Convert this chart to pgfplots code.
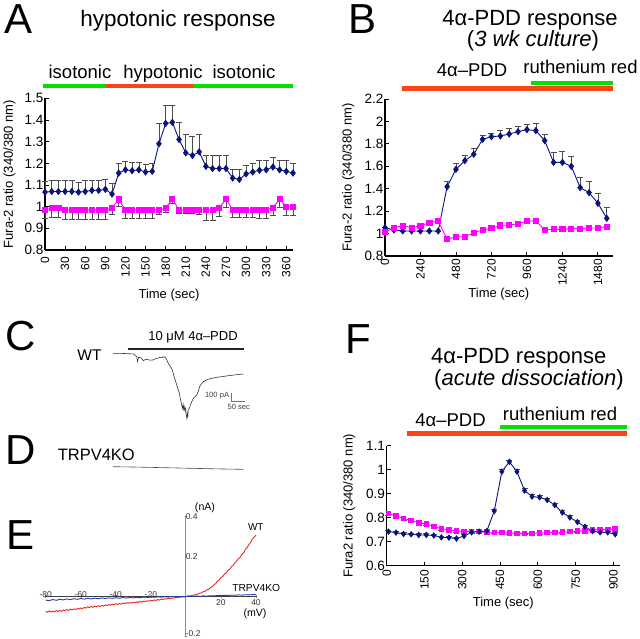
\documentclass[border=0pt]{standalone}
\usepackage{fontspec}
\setmainfont{Liberation Sans}
\usepackage{pgfplots}
\pgfplotsset{compat=1.18}

\definecolor{navy}{RGB}{10,20,125}
\definecolor{mag}{RGB}{255,0,255}
\definecolor{bargreen}{RGB}{0,225,0}
\definecolor{barred}{RGB}{250,70,20}
\definecolor{ivred}{RGB}{228,45,40}
\definecolor{ivblue}{RGB}{40,60,170}
\newcommand\fs[1]{\fontsize{#1}{#1}\selectfont}

\pgfplotsset{
  panel/.style={
    scale only axis, clip=false,
    axis lines=left, axis line style={-, line width=1.1pt},
    tick align=inside, major tick length=4pt,
    tick style={black, line width=0.9pt},
    /pgf/number format/assume math mode=true,
    xticklabel style={rotate=90, anchor=east, inner sep=0pt, font=\fs{12}},
    yticklabel style={inner sep=1.5pt, font=\fs{13.5}},
    label style={font=\fs{13}},
    xlabel style={anchor=base}, ylabel style={anchor=base},
  },
  errs/.style={
    error bars/y explicit,
    error bars/error bar style={black!70, line width=0.6pt},
    error bars/error mark options={rotate=90, black!70, line width=0.6pt, mark size=3pt}},
  bluese/.style={navy, line width=0.9pt, mark=diamond*, mark size=3pt,
    mark options={navy}, errs, error bars/y dir=plus},
  magse/.style={mag, line width=0.9pt, mark=square*, mark size=2.6pt,
    mark options={mag}, errs, error bars/y dir=minus},
}

\begin{document}
\begin{tikzpicture}[x=1pt,y=1pt]
\useasboundingbox (0,0) rectangle (640,-639);

% ---------------- A ----------------
\node[anchor=base west, inner sep=0pt, font=\fs{42}] at (4,-33.3) {A};
\node[anchor=base, inner sep=0pt, font=\fs{22.5}] at (178,-26.7) {hypotonic response};
\draw[line width=4.3pt, bargreen] (43,-86) -- (106,-86);
\draw[line width=4.3pt, barred] (106,-86) -- (193,-86);
\draw[line width=4.3pt, bargreen] (193,-86) -- (293,-86);
\node[anchor=base, inner sep=0pt, font=\fs{18.5}] at (80,-78.3) {isotonic};
\node[anchor=base, inner sep=0pt, font=\fs{18.5}] at (163,-78.3) {hypotonic};
\node[anchor=base, inner sep=0pt, font=\fs{18.5}] at (244,-78.3) {isotonic};

\begin{axis}[panel, at={(45pt,-250pt)}, width=248pt, height=151.7pt,
  xmin=0, xmax=370, ymin=0.8, ymax=1.5,
  xtick={0,30,...,360}, ytick={0.8,0.9,...,1.51},
  xticklabel shift=7pt,
  xlabel={Time (sec)}, ylabel={Fura-2 ratio (340/380 nm)},
  xlabel style={at={(rel axis cs:0.5,-0.323)}},
  ylabel style={at={(rel axis cs:-0.130,0.5)}},
]
\addplot+[bluese] table[x=t, y=v, y error=e] {
t v e
0 1.067 0.05
10 1.070 0.05
20 1.070 0.05
30 1.070 0.05
40 1.070 0.05
50 1.067 0.045
60 1.070 0.05
70 1.075 0.045
80 1.075 0.045
90 1.080 0.045
100 1.058 0.05
110 1.155 0.045
120 1.170 0.04
130 1.166 0.04
140 1.170 0.035
150 1.160 0.035
160 1.163 0.035
170 1.290 0.095
180 1.384 0.085
190 1.389 0.08
200 1.310 0.08
210 1.248 0.085
220 1.236 0.09
230 1.253 0.08
240 1.186 0.05
250 1.176 0.06
260 1.176 0.06
270 1.176 0.06
280 1.132 0.04
290 1.126 0.045
300 1.151 0.04
310 1.160 0.04
320 1.168 0.045
330 1.170 0.045
340 1.183 0.045
350 1.170 0.045
360 1.163 0.05
370 1.155 0.045
};
\addplot+[magse] table[x=t, y=v, y error=e] {
t v e
0 0.985 0.04
10 0.993 0.04
20 0.993 0.04
30 0.985 0.045
40 0.985 0.045
50 0.985 0.045
60 0.985 0.045
70 0.985 0.045
80 0.985 0.045
90 0.985 0.045
100 0.993 0.03
110 1.033 0.03
120 0.985 0.04
130 0.985 0.04
140 0.985 0.04
150 0.985 0.04
160 0.985 0.04
170 0.985 0.02
180 0.993 0.02
190 1.035 0.02
200 0.985 0.015
210 0.985 0.015
220 0.985 0.015
230 0.985 0.02
240 0.985 0.05
250 0.985 0.05
260 0.995 0.04
270 1.035 0.04
280 0.985 0.035
290 0.985 0.035
300 0.985 0.035
310 0.985 0.035
320 0.985 0.04
330 0.985 0.04
340 0.995 0.035
350 1.035 0.04
360 1.000 0.04
370 1.000 0.04
};
\end{axis}

% ---------------- B ----------------
\node[anchor=base west, inner sep=0pt, font=\fs{42}] at (348,-33.3) {B};
\node[anchor=base, inner sep=0pt, font=\fs{22}] at (530,-26) {4α-PDD response};
\node[anchor=base, inner sep=0pt, font=\fs{22}] at (533,-46.7) {(\textit{3 wk culture})};
\draw[line width=5pt, barred] (401.7,-89) -- (613.3,-89);
\draw[line width=4pt, bargreen] (531,-83) -- (613.3,-83);
\node[anchor=base, inner sep=0pt, font=\fs{18.5}] at (472,-76.7) {4α–PDD};
\node[anchor=base, inner sep=0pt, font=\fs{18.5}] at (580.5,-74) {ruthenium red};

\begin{axis}[panel, at={(385pt,-256pt)}, width=227.7pt, height=157pt,
  xmin=0, xmax=1540, ymin=0.8, ymax=2.2,
  xtick={0,240,...,1440}, xticklabels={0,240,480,720,960,1240,1480},
  ytick={0.8,1,...,2.21},
  xticklabel shift=3pt,
  xlabel={Time (sec)}, ylabel={Fura-2 ratio (340/380 nm)},
  xlabel style={at={(rel axis cs:0.5,-0.2656)}},
  ylabel style={at={(rel axis cs:-0.1462,0.5)}},
]
\addplot+[bluese] table[x=t, y=v, y error=e] {
t v e
0 1.053 0
60 1.032 0
120 1.023 0
180 1.023 0
240 1.023 0
300 1.023 0
360 1.023 0
420 1.418 0.05
480 1.573 0.05
540 1.650 0.05
600 1.707 0.05
660 1.840 0.035
720 1.864 0.03
780 1.870 0.05
840 1.888 0.05
900 1.909 0.05
960 1.927 0.05
1020 1.918 0.065
1080 1.829 0.055
1140 1.635 0.09
1200 1.635 0.10
1260 1.600 0.09
1320 1.410 0.09
1380 1.365 0.10
1440 1.270 0.09
1500 1.136 0.10
};
\addplot+[magse] table[x=t, y=v, y error=e] {
t v e
0 1.011 0.02
60 1.053 0.015
120 1.070 0.015
180 1.053 0.015
240 1.070 0.015
300 1.097 0.015
360 1.112 0.015
420 0.949 0.02
480 0.972 0.025
540 0.972 0.02
600 1.008 0.015
660 1.032 0.015
720 1.047 0.015
780 1.073 0.015
840 1.076 0.015
900 1.088 0.015
960 1.109 0.015
1020 1.115 0.015
1080 1.032 0.015
1140 1.038 0.015
1200 1.038 0.015
1260 1.044 0.015
1320 1.044 0.015
1380 1.050 0.015
1440 1.050 0.015
1500 1.062 0.015
};
\end{axis}

% ---------------- C ----------------
\node[anchor=base west, inner sep=0pt, font=\fs{42}] at (5,-350) {C};
\node[anchor=base, inner sep=0pt, font=\fs{15.5}] at (89.5,-360.7) {WT};
\node[anchor=base, inner sep=0pt, font=\fs{13}] at (193,-340.7) {10 μM 4α–PDD};
\draw[line width=1.3pt, black!85] (127.7,-349) -- (244.3,-349);
\node[anchor=base east, inner sep=0pt, font=\fs{7.6}, black!75] at (229.3,-397.3) {100 pA};
\node[anchor=base, inner sep=0pt, font=\fs{7.6}, black!75] at (238.8,-409.3) {50 sec};

\begin{axis}[at={(113pt,-433.3pt)}, scale only axis, width=130.7pt, height=88pt,
  xmin=0, xmax=490, ymin=-1000, ymax=100, hide axis, clip=false]
\addplot[black!80, line width=0.6pt] coordinates {
(0,0) (40,-2) (76,-8) (89,-42) (92,-104) (96,-50) (104,-55) (114,-92)
(120,-80) (126,-75) (138,-86) (151,-83) (158,-70) (164,-63) (170,-58)
(176,-50) (183,-55) (189,-42) (195,-52) (199,-63) (207,-125) (214,-160)
(220,-188) (225,-240) (229,-292) (234,-340) (239,-396) (244,-450)
(249,-500) (252,-560) (255,-604) (258,-650) (261,-688) (263,-640)
(265,-700) (267,-667) (270,-720) (272,-690) (274,-750) (276,-790)
(277,-813) (279,-760) (280,-800) (282,-708) (286,-690) (289,-658)
(292,-630) (295,-604) (298,-590) (301,-563) (307,-545) (314,-521)
(320,-470) (326,-408) (332,-380) (339,-354) (348,-338) (357,-325)
(372,-312) (389,-300) (408,-292) (426,-283) (445,-275) (464,-267)
(478,-262) (489,-258)
};
\draw[black!55, line width=0.6pt] (axis cs:445,-496) -- (axis cs:445,-596) -- (axis cs:495,-596);
\end{axis}

% ---------------- D ----------------
\node[anchor=base west, inner sep=0pt, font=\fs{42}] at (5,-464) {D};
\node[anchor=base, inner sep=0pt, font=\fs{16.5}] at (96.3,-460.7) {TRPV4KO};
\begin{axis}[at={(113pt,-482.7pt)}, scale only axis, width=130.7pt, height=24pt,
  xmin=0, xmax=490, ymin=-200, ymax=100, hide axis, clip=false]
\addplot[black!70, line width=0.6pt] coordinates {
(0,0) (80,-4) (160,-10) (240,-16) (320,-22) (400,-28) (490,-33)
};
\end{axis}

% ---------------- E ----------------
\node[anchor=base west, inner sep=0pt, font=\fs{42}] at (6.7,-549.3) {E};
\node[anchor=base, inner sep=0pt, font=\fs{10.6}] at (205,-510.7) {(nA)};
\node[anchor=base, inner sep=0pt, font=\fs{10}] at (255.8,-530.7) {WT};
\node[anchor=base, inner sep=0pt, font=\fs{10.2}] at (256.2,-591) {TRPV4KO};
\node[anchor=base, inner sep=0pt, font=\fs{10.6}] at (255,-616.7) {(mV)};

\begin{axis}[at={(45.7pt,-636.7pt)}, scale only axis, width=210.3pt, height=120pt,
  xmin=-80, xmax=40, ymin=-0.2, ymax=0.4, clip=false,
  axis lines=middle, axis line style={-},
  x axis line style={black!75, line width=0.8pt},
  y axis line style={black!45, line width=0.8pt},
  tick style={black!55, line width=0.5pt}, major tick length=2.5pt,
  /pgf/number format/assume math mode=true,
  xtick={-80,-60,-40,-20},
  xticklabel style={anchor=south, inner sep=0.5pt, font=\fs{8.5}, black!80},
  extra x ticks={20,40},
  extra x tick style={xticklabel style={anchor=north, inner sep=1.5pt}},
  ytick={0.2,0.4},
  yticklabel style={anchor=west, inner sep=1pt, font=\fs{8.5}, black!80},
  extra y ticks={-0.2},
  extra y tick style={yticklabel style={anchor=west, inner sep=1pt, yshift=3pt}},
]
\addplot[ivred, line width=0.9pt] coordinates {
(-80,-0.072) (-79,-0.078) (-78,-0.071) (-77,-0.077) (-76,-0.072) (-75,-0.076)
(-74,-0.069) (-73,-0.074) (-72,-0.068) (-71,-0.073) (-70,-0.066) (-69,-0.070)
(-68,-0.064) (-67,-0.069) (-66,-0.062) (-65,-0.066) (-64,-0.061) (-63,-0.065)
(-62,-0.058) (-61,-0.062) (-60,-0.056) (-59,-0.060) (-58,-0.053) (-57,-0.057)
(-56,-0.050) (-55,-0.055) (-54,-0.049) (-53,-0.053) (-52,-0.047) (-51,-0.051)
(-50,-0.045) (-49,-0.049) (-48,-0.044) (-47,-0.047) (-46,-0.041) (-45,-0.045)
(-44,-0.040) (-43,-0.043) (-42,-0.037) (-41,-0.041) (-40,-0.035) (-39,-0.039)
(-38,-0.034) (-37,-0.037) (-36,-0.032) (-35,-0.035) (-34,-0.030) (-33,-0.033)
(-32,-0.029) (-31,-0.032) (-30,-0.027) (-29,-0.030) (-28,-0.026) (-27,-0.029)
(-26,-0.023) (-25,-0.027) (-24,-0.022) (-23,-0.025) (-22,-0.020) (-21,-0.023)
(-20,-0.018) (-19,-0.021) (-18,-0.016) (-17,-0.019) (-16,-0.014) (-15,-0.017)
(-14,-0.012) (-13,-0.014) (-12,-0.010) (-11,-0.012) (-10,-0.008) (-9,-0.010)
(-8,-0.006) (-7,-0.008) (-6,-0.004) (-5,-0.005) (-4,-0.002) (-3,-0.003)
(-2,0.000) (-1,-0.001) (0,0.002) (1,0.003) (2,0.005) (3,0.005) (4,0.008)
(5,0.008) (6,0.012) (7,0.013) (8,0.018) (9,0.020) (10,0.026) (11,0.027)
(12,0.035) (13,0.037) (14,0.046) (15,0.050) (16,0.060) (17,0.066)
(18,0.078) (19,0.083) (20,0.097) (21,0.101) (22,0.114) (23,0.118)
(24,0.132) (25,0.136) (26,0.151) (27,0.157) (28,0.170) (29,0.178)
(30,0.190) (31,0.197) (32,0.212) (33,0.220) (34,0.238) (35,0.246)
(36,0.262) (37,0.272) (38,0.290) (39,0.298) (40,0.308)
};
\addplot[ivblue, line width=0.9pt] coordinates {
(-80,-0.017) (-78,-0.020) (-76,-0.014) (-74,-0.018) (-72,-0.013) (-70,-0.016)
(-68,-0.011) (-66,-0.015) (-64,-0.010) (-62,-0.013) (-60,-0.009) (-58,-0.012)
(-56,-0.008) (-54,-0.011) (-52,-0.007) (-50,-0.010) (-48,-0.006) (-46,-0.009)
(-44,-0.006) (-42,-0.008) (-40,-0.005) (-38,-0.008) (-36,-0.004) (-34,-0.007)
(-32,-0.004) (-30,-0.006) (-28,-0.003) (-26,-0.005) (-24,-0.002) (-22,-0.004)
(-20,-0.002) (-18,-0.003) (-16,-0.001) (-14,-0.002) (-12,0.000) (-10,-0.002)
(-8,0.001) (-6,-0.001) (-4,0.001) (-2,0.000) (0,0.001) (2,0.002) (4,0.001)
(6,0.003) (8,0.002) (10,0.004) (12,0.003) (14,0.005) (16,0.004) (18,0.006)
(20,0.005) (22,0.007) (24,0.006) (26,0.008) (28,0.007) (30,0.009) (32,0.008)
(34,0.010) (36,0.009) (38,0.011) (40,0.010)
};
\end{axis}

% ---------------- F ----------------
\node[anchor=base west, inner sep=0pt, font=\fs{42}] at (345,-353.3) {F};
\node[anchor=base, inner sep=0pt, font=\fs{22}] at (518.8,-363.3) {4α-PDD response};
\node[anchor=base, inner sep=0pt, font=\fs{22}] at (529,-385) {(\textit{acute dissociation})};
\draw[line width=5.3pt, barred] (406.7,-433.3) -- (626.7,-433.3);
\draw[line width=4.3pt, bargreen] (500,-427.2) -- (626.7,-427.2);
\node[anchor=base, inner sep=0pt, font=\fs{18.5}] at (450.5,-426) {4α–PDD};
\node[anchor=base, inner sep=0pt, font=\fs{18.5}] at (560,-420.7) {ruthenium red};

\begin{axis}[panel, at={(386.7pt,-565.7pt)}, width=233.3pt, height=120pt,
  xmin=0, xmax=926, ymin=0.6, ymax=1.1,
  xtick={0,150,...,900}, ytick={0.6,0.7,...,1.11},
  xticklabel shift=4pt,
  xlabel={Time (sec)}, ylabel={Fura2 ratio (340/380 nm)},
  xlabel style={at={(rel axis cs:0.5,-0.3417)}},
  ylabel style={at={(rel axis cs:-0.1457,0.5)}},
]
\addplot+[magse, mark size=2.3pt] table[x=t, y=v, y error=e] {
t v e
7 0.817 0.006
37 0.808 0.006
67 0.797 0.006
97 0.788 0.006
127 0.779 0.006
157 0.774 0.006
187 0.763 0.006
217 0.754 0.006
247 0.749 0.006
277 0.744 0.006
307 0.743 0.006
337 0.743 0.006
367 0.742 0.006
397 0.740 0.006
427 0.739 0.006
457 0.738 0.006
487 0.736 0.006
517 0.735 0.006
547 0.735 0.006
577 0.735 0.006
607 0.736 0.006
637 0.738 0.006
667 0.739 0.006
697 0.740 0.006
727 0.742 0.006
757 0.744 0.006
787 0.746 0.006
817 0.749 0.006
847 0.750 0.006
877 0.751 0.006
907 0.753 0.006
};
\addplot+[bluese, mark size=2.6pt] table[x=t, y=v, y error=e] {
t v e
7 0.742 0.006
37 0.738 0.006
67 0.732 0.006
97 0.731 0.006
127 0.728 0.006
157 0.728 0.006
187 0.726 0.006
217 0.718 0.006
247 0.717 0.006
277 0.713 0.006
307 0.724 0.006
337 0.739 0.006
367 0.742 0.006
397 0.744 0.006
427 0.828 0.008
457 0.992 0.008
487 1.033 0.008
517 0.992 0.008
547 0.913 0.008
577 0.888 0.008
607 0.885 0.008
637 0.874 0.008
667 0.853 0.008
697 0.822 0.008
727 0.801 0.008
757 0.782 0.008
787 0.762 0.008
817 0.744 0.008
847 0.739 0.008
877 0.739 0.008
907 0.731 0.008
};
\end{axis}
\end{tikzpicture}
\end{document}
